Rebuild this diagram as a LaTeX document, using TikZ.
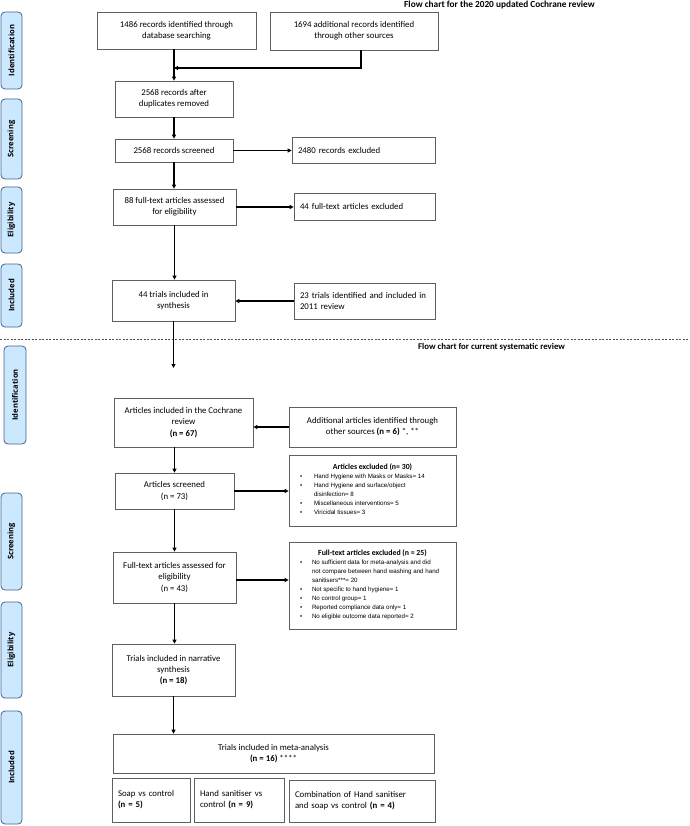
\documentclass[tikz,border=0pt]{standalone}
\usepackage{fontspec}
\setmainfont{Carlito}
\newfontfamily\labfont{Open Sans}
\newfontfamily\lisfont{Liberation Sans}
\usetikzlibrary{arrows.meta}
\definecolor{boxc}{RGB}{95,95,95}
\definecolor{sidef}{RGB}{204,232,255}
\definecolor{sidec}{RGB}{70,100,140}
\begin{document}
\begin{tikzpicture}[x=1pt,y=-1pt,
  box/.style={draw=boxc, line width=0.7pt, inner sep=1pt, align=center,
    font=\fontsize{8.8}{11.2}\selectfont},
  lbox/.style={box, align=left, inner xsep=6pt},
  lst/.style={draw=boxc, line width=0.7pt, inner sep=0pt},
  side/.style={draw=sidec, fill=sidef, rounded corners=4pt, line width=0.8pt,
    rotate=90, inner sep=0pt, font=\labfont\bfseries\fontsize{7.6}{8}\selectfont},
  ttl/.style={anchor=west, inner sep=0pt, font=\bfseries\fontsize{9.3}{10}\selectfont},
  arr/.style={-{Triangle[length=4pt,width=4pt]}, line width=1.3pt},
  ln/.style={line width=1.3pt}]
\useasboundingbox (0,0) rectangle (689,826);

% titles and separator
\node[ttl] (t1) at (404,5) {Flow chart for the 2020 updated Cochrane review};
\draw[dash pattern=on 2pt off 1.5pt, line width=0.5pt, black!70] (0,339) -- (689,339);
\node[ttl, font=\bfseries\fontsize{8.8}{10}\selectfont] (t2) at (418,347) {Flow chart for current systematic review};

% side labels
\node[side, minimum width=77pt, minimum height=21pt] (L1) at (11.5,50.5) {Identification};
\node[side, minimum width=80pt, minimum height=21pt] (L2) at (11.5,139) {Screening};
\node[side, minimum width=66pt, minimum height=21pt] (L3) at (11.5,220) {Eligibility};
\node[side, minimum width=63pt, minimum height=21pt] (L4) at (11.5,295.5) {Included};
\node[side, minimum width=98pt, minimum height=22pt] (L5) at (15,395) {Identification};
\node[side, minimum width=97pt, minimum height=21pt] (L6) at (11.5,541.5) {Screening};
\node[side, minimum width=96pt, minimum height=21pt] (L7) at (11.5,650) {Eligibility};
\node[side, minimum width=113pt, minimum height=21pt] (L8) at (11.5,767.5) {Included};

% upper flow chart
\node[box, minimum width=159pt, minimum height=37pt] (b1) at (176.5,30.5) {1486 records identified through\\database searching};
\node[box, minimum width=168pt, minimum height=38pt] (b2) at (354,31) {1694 additional records identified\\through other sources};
\node[box, minimum width=118pt, minimum height=36pt] (b3) at (174,99) {2568 records after\\duplicates removed};
\node[box, minimum width=118pt, minimum height=23pt] (b4) at (174,150.5) {2568 records screened};
\node[lbox, text width=131pt, minimum height=26pt] (b5) at (363.5,150) {2480 records excluded};
\node[box, minimum width=123pt, minimum height=36pt] (b6) at (174.5,207) {88 full-text articles assessed\\for eligibility};
\node[lbox, text width=129pt, minimum height=27pt] (b7) at (364.5,206.5) {44 full-text articles excluded};
\node[box, minimum width=123pt, minimum height=41pt] (b8) at (173.5,300.5) {44 trials included in\\synthesis};
\node[lbox, text width=129pt, minimum height=36pt] (b9) at (364.5,301) {23 trials identified and included in\\2011 review};

\coordinate (j) at (174,68);
\coordinate (k) at (361,68);
\coordinate (e1) at (173.5,368);
\draw[arr] (b3.north |- b1.south) -- (b3.north);
\draw[arr] (k |- b2.south) -- (k) -- (j);
\draw[arr] (b3.south) -- (b4.north);
\draw[arr] (b4.east) -- (b5.west |- b4.east);
\draw[arr] (b4.south) -- (b4.south |- b6.north);
\draw[arr] (b6.east) -- (b7.west |- b6.east);
\draw[arr] (b6.south) -- (b6.south |- b8.north);
\draw[arr] (b9.west) -- (b8.east |- b9.west);
\draw[arr] (b8.south) -- (e1);

% lower flow chart
\node[box, minimum width=139pt, minimum height=49pt] (c1) at (183.5,422.5) {Articles included in the Cochrane\\review\\\textbf{(n = 67)}};
\node[box, minimum width=167pt, minimum height=40pt] (c2) at (372.5,427) {Additional articles identified through\\other sources \textbf{(n = 6)} *, **};
\node[lst, minimum width=167pt, minimum height=71pt] (c3) at (372.5,490.5) {%
  \lisfont\fontsize{6.2}{9}\selectfont
  \begin{tabular}{@{\hspace{9pt}}p{14pt}@{}p{140pt}@{}}
  \multicolumn{2}{c}{\rmfamily\bfseries\fontsize{7.8}{9}\selectfont Articles excluded (n= 30)}\\
  • & Hand Hygiene with Masks or Masks= 14\\
  • & Hand Hygiene and surface/object\\
    & disinfection= 8\\
  • & Miscellaneous interventions= 5\\
  • & Viricidal tissues= 3
  \end{tabular}};
\node[box, minimum width=119pt, minimum height=36pt] (c4) at (174.5,491) {Articles screened\\(n = 73)};
\node[box, minimum width=123pt, minimum height=51pt] (c5) at (174.5,577.5) {Full-text articles assessed for\\eligibility\\(n = 43)};
\node[lst, minimum width=167pt, minimum height=87pt] (c6) at (372.5,585.5) {%
  \lisfont\fontsize{6.2}{9}\selectfont
  \begin{tabular}{@{\hspace{9pt}}p{12pt}@{}p{142pt}@{}}
  \multicolumn{2}{c}{\rmfamily\bfseries\fontsize{7.8}{9}\selectfont Full-text articles excluded (n = 25)}\\
  • & No sufficient data for meta-analysis and did\\
    & not compare between hand washing and hand\\
    & sanitisers***= 20\\
  • & Not specific to hand hygiene= 1\\
  • & No control group= 1\\
  • & Reported compliance data only= 1\\
  • & No eligible outcome data reported= 2
  \end{tabular}};
\node[box, minimum width=123pt, minimum height=52pt] (c7) at (173.5,670) {Trials included in narrative\\synthesis\\\textbf{(n = 18)}};
\node[box, minimum width=321pt, minimum height=39pt] (c8) at (273.5,753.5) {Trials included in meta-analysis\\\textbf{(n = 16)} ****};
\node[lbox, text width=66pt, minimum height=44pt] (c9) at (151,800) {Soap vs control\\\textbf{(n = 5)}};
\node[lbox, text width=78pt, minimum height=44pt] (c10) at (239,800) {Hand sanitiser vs\\control \textbf{(n = 9)}};
\node[lbox, text width=134pt, minimum height=42pt] (c11) at (362,801) {Combination of Hand sanitiser\\and soap vs control \textbf{(n = 4)}};

\draw[arr] (c2.west) -- (c1.east |- c2.west);
\draw[arr] (c4.north |- c1.south) -- (c4.north);
\draw[arr] (c4.east) -- (c3.west |- c4.east);
\draw[arr] (c4.south) -- (c4.south |- c5.north);
\draw[arr] ([yshift=-2.5pt]c5.east) -- ([yshift=-2.5pt]c6.west |- c5.east);
\draw[arr] (c5.south) -- (c5.south |- c7.north);
\draw[arr] (c7.south) -- (c7.south |- c8.north);
\end{tikzpicture}
\end{document}
